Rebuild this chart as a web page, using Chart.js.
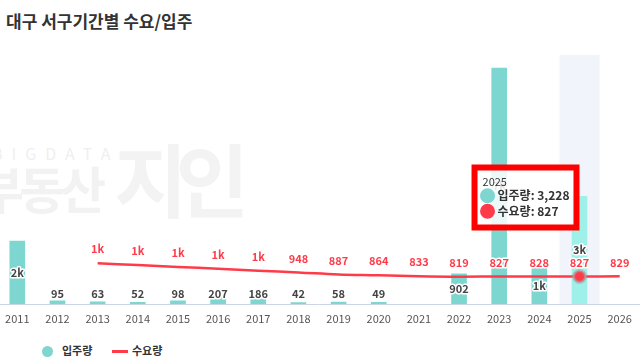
<!DOCTYPE html>
<html>
<head>
<meta charset="utf-8">
<script src="https://cdn.jsdelivr.net/npm/chart.js@4"></script>
<style>
  html, body { margin: 0; padding: 0; background: #fff; }
  body { width: 641px; height: 364px; position: relative; overflow: hidden; font-family: "Noto Sans CJK KR", sans-serif; }
  .title { position: absolute; left: 6px; top: 8px; font-size: 17px; font-weight: bold; color: #333; white-space: nowrap; }
  .wm { position: absolute; color: #f2f2f2; font-weight: bold; white-space: nowrap; z-index: 0; }
  .wm-big { left: -22px; top: 151px; font-size: 50px; letter-spacing: -5px; }
  .wm-logo { left: 114px; top: 118px; font-size: 80px; letter-spacing: -12px; color: #f3f3f3; }
  .wm-small { left: -8px; top: 141px; font-size: 16px; letter-spacing: 9px; font-weight: normal; color: #efefef; }
  #wrap { position: absolute; left: -4px; top: 0; width: 645px; height: 340px; z-index: 1; }
  .legend { position: absolute; top: 342px; left: 0; height: 18px; font-size: 11px; font-weight: bold; color: #333; z-index: 2; }
  .legend span { position: absolute; top: 0; white-space: nowrap; }
  .dot { position: absolute; width: 11px; height: 11px; border-radius: 50%; background: #7dd6cf; left: 42px; top: 4px; }
  .dash { position: absolute; width: 16px; height: 3px; background: #ff3b4a; left: 112px; top: 8px; }
</style>
</head>
<body>
<div class="title">대구 서구기간별 수요/입주</div>
<div class="wm wm-small">BIGDATA</div>
<div class="wm wm-big">부동산</div>
<div class="wm wm-logo">지인</div>
<div id="wrap"><canvas id="chart"></canvas></div>
<div class="legend">
  <div class="dot"></div><span style="left:62px">입주량</span>
  <div class="dash"></div><span style="left:132px">수요량</span>
</div>
<script>
// 기간별 수요/입주 데이터
const years = ['2011', '2012', '2013', '2014', '2015', '2016', '2017', '2018',
  '2019', '2020', '2021', '2022', '2023', '2024', '2025', '2026'];
const supply = [1890, 95, 63, 52, 98, 207, 186, 42, 58, 49, null, 902, 7080, 1110, 3228, null];
const demand = [null, null, 1221, 1170, 1110, 1060, 1000, 948, 887, 864, 833, 819, 827, 828, 827, 829];
const activeYear = '2025';

const TEAL = '#7dd6cf';
const RED = '#ff3b4a';
const FONT = '"Noto Sans CJK KR", "Noto Sans", sans-serif';

const fmtShort = v => v >= 1000 ? Math.round(v / 1000) + 'k' : String(v);

// 선택된 연도 배경 하이라이트
const bandPlugin = {
  id: 'band',
  beforeDatasetsDraw(chart) {
    const act = chart.getActiveElements();
    if (!act.length) return;
    const x = chart.scales.x;
    const w = x.width / years.length;
    const cx = x.getPixelForValue(act[0].index);
    const { ctx, chartArea } = chart;
    ctx.save();
    ctx.fillStyle = '#f1f4fa';
    ctx.fillRect(cx - w / 2, chartArea.top, w, chartArea.bottom - chartArea.top);
    ctx.restore();
  },
};

// 값 라벨
const labelPlugin = {
  id: 'valueLabels',
  afterDatasetsDraw(chart) {
    const { ctx } = chart;
    ctx.save();
    ctx.font = 'bold 11px ' + FONT;
    ctx.textAlign = 'center';
    ctx.textBaseline = 'middle';
    ctx.lineWidth = 3;
    ctx.lineJoin = 'round';
    ctx.strokeStyle = '#fff';

    chart.getDatasetMeta(0).data.forEach((bar, i) => {
      const v = supply[i];
      if (v == null) return;
      const y = Math.min((bar.y + bar.base) / 2, bar.base - 10);
      const t = fmtShort(v);
      ctx.fillStyle = '#444';
      ctx.strokeText(t, bar.x, y);
      ctx.fillText(t, bar.x, y);
    });

    chart.getDatasetMeta(1).data.forEach((pt, i) => {
      const v = demand[i];
      if (v == null) return;
      const t = fmtShort(v);
      ctx.fillStyle = RED;
      ctx.strokeText(t, pt.x, pt.y - 14);
      ctx.fillText(t, pt.x, pt.y - 14);
    });
    ctx.restore();
  },
};

Chart.Tooltip.positioners.barLeft = function (items) {
  if (!items.length) return false;
  const el = items[0].element;
  return { x: el.x - 2, y: el.y + 1 };
};

const chart = new Chart(document.getElementById('chart'), {
  type: 'bar',
  data: {
    labels: years,
    datasets: [
      {
        type: 'bar',
        label: '입주량',
        data: supply,
        backgroundColor: TEAL,
        hoverBackgroundColor: '#9ef0e8',
        barThickness: 15,
        order: 1,
      },
      {
        type: 'line',
        label: '수요량',
        data: demand,
        borderColor: RED,
        backgroundColor: RED,
        borderWidth: 2.5,
        tension: 0.4,
        pointRadius: 0,
        pointHoverRadius: 6,
        pointHoverBackgroundColor: RED,
        pointHoverBorderColor: 'rgba(170,170,170,0.6)',
        pointHoverBorderWidth: 3,
        order: 0,
      },
    ],
  },
  options: {
    responsive: true,
    maintainAspectRatio: false,
    animation: false,
    events: [],
    layout: { padding: { top: 55, left: 0, right: 0, bottom: 0 } },
    interaction: { mode: 'index', intersect: false },
    plugins: {
      legend: { display: false },
      tooltip: {
        position: 'barLeft',
        xAlign: 'right',
        yAlign: 'center',
        caretSize: 0,
        caretPadding: 2,
        cornerRadius: 0,
        backgroundColor: 'rgba(255,255,255,0.85)',
        borderColor: '#ff0000',
        borderWidth: 6,
        padding: { top: 8, bottom: 9, left: 8, right: 7 },
        titleColor: '#333',
        titleFont: { family: FONT, size: 11, weight: 'normal' },
        titleMarginBottom: 0,
        bodyColor: '#333',
        bodyFont: { family: FONT, size: 12, weight: 'bold' },
        bodySpacing: 1,
        usePointStyle: true,
        boxWidth: 10,
        boxHeight: 9,
        boxPadding: 3,
        callbacks: {
          label: c => c.dataset.label + ': ' + c.parsed.y.toLocaleString('en-US'),
          labelColor: c => {
            const col = c.datasetIndex === 0 ? TEAL : RED;
            return { borderColor: col, backgroundColor: col, borderWidth: 0 };
          },
          labelPointStyle: () => ({ pointStyle: 'circle', rotation: 0 }),
        },
      },
    },
    scales: {
      x: {
        grid: { display: false, drawTicks: false },
        border: { color: '#ccd5e6' },
        ticks: { color: '#555', padding: 8, font: { family: FONT, size: 11 } },
        afterFit: s => { s.height = 36; },
      },
      y: {
        min: 0,
        max: 7470,
        ticks: { display: false, stepSize: 2000 },
        grid: { color: '#e3e3e3', drawTicks: false },
        border: { display: false },
        afterBuildTicks: s => { s.ticks = s.ticks.filter(t => t.value > 0 && t.value % 2000 === 0); },
        afterFit: s => { s.width = 0; },
      },
    },
  },
  plugins: [bandPlugin, labelPlugin],
});

const idx = years.indexOf(activeYear);
const act = [{ datasetIndex: 0, index: idx }, { datasetIndex: 1, index: idx }];
chart.setActiveElements(act);
chart.tooltip.setActiveElements(act, { x: 0, y: 0 });
chart.update();
</script>
</body>
</html>
